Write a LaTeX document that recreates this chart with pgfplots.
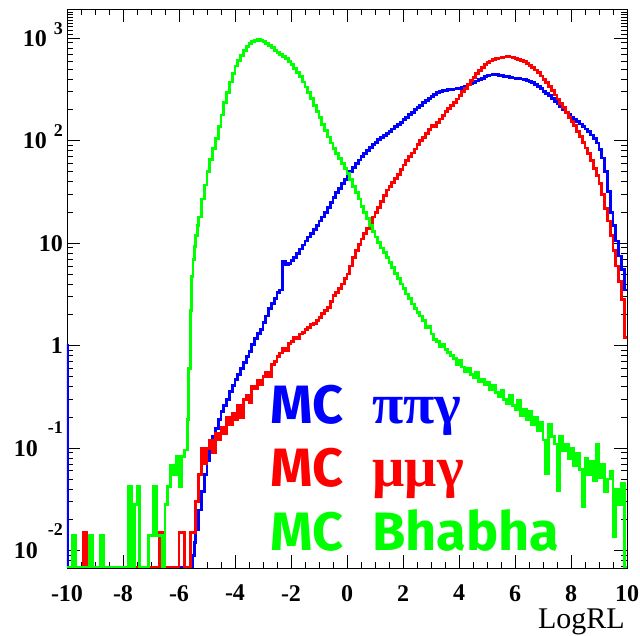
\documentclass[border=0pt]{standalone}
\usepackage{fontspec}
\setmainfont{Liberation Serif}
\newfontfamily\comic{Fira Sans}
\newfontfamily\greek{Liberation Serif}
\usepackage{pgfplots}
\pgfplotsset{compat=1.18}

\pgfplotstableread{
x y
-10.0 0.0068
-10.0 1.0
-9.98 0.0068
-5.5 0.009
-5.45 0.012
-5.4 0.016
-5.3 0.025
-5.2 0.038
-5.1 0.055
-5.0 0.075
-4.9 0.1
-4.8 0.13
-4.7 0.155
-4.6 0.19
-4.5 0.23
-4.4 0.26
-4.3 0.3
-4.2 0.36
-4.1 0.41
-4.0 0.47
-3.9 0.52
-3.8 0.6
-3.7 0.68
-3.6 0.78
-3.5 0.88
-3.4 1.02
-3.3 1.18
-3.2 1.32
-3.1 1.45
-3.0 1.7
-2.9 1.95
-2.8 2.3
-2.7 2.6
-2.6 2.9
-2.5 3.3
-2.4 3.5
-2.3 6.6
-2.2 6.2
-2.1 6.3
-2.0 6.8
-1.9 7.3
-1.8 8.0
-1.7 8.8
-1.6 9.6
-1.5 10.5
-1.4 11.5
-1.3 12.5
-1.2 13.5
-1.1 15
-1.0 16.5
-0.9 18
-0.8 20
-0.7 22.5
-0.6 25
-0.5 28
-0.4 31
-0.3 34
-0.2 38
-0.1 42
0.0 46
0.1 50
0.2 55
0.3 60
0.4 65
0.5 70
0.6 75
0.7 80
0.8 86
0.9 92
1.0 97
1.1 102
1.2 108
1.3 113
1.4 118
1.5 124
1.6 130
1.7 137
1.8 144
1.9 152
2.0 160
2.1 170
2.2 180
2.3 190
2.4 200
2.5 210
2.6 222
2.7 235
2.8 248
2.9 258
3.0 270
3.1 285
3.2 298
3.3 305
3.4 308
3.5 312
3.6 315
3.7 318
3.8 320
3.9 322
4.0 326
4.1 333
4.2 340
4.3 350
4.4 360
4.5 370
4.6 382
4.7 395
4.8 408
4.9 420
5.0 430
5.1 438
5.2 442
5.3 440
5.4 435
5.5 430
5.6 425
5.7 420
5.8 415
5.9 410
6.0 406
6.1 403
6.2 400
6.3 395
6.4 388
6.5 380
6.6 368
6.7 355
6.8 340
6.9 322
7.0 305
7.1 290
7.2 275
7.3 258
7.4 242
7.5 228
7.6 215
7.7 202
7.8 190
7.9 180
8.0 170
8.1 162
8.2 154
8.3 146
8.4 138
8.5 130
8.6 122
8.7 114
8.8 105
8.9 95
9.0 82
9.1 68
9.2 50
9.3 32
9.4 20
9.5 15
9.6 10.5
9.7 7.5
9.8 5.5
9.9 3.5
10.0 3.5
}\pipig

\pgfplotstableread{
x y
-10.0 0.0068
-9.4 0.015
-9.3 0.0068
-6.7 0.015
-6.6 0.0068
-6.0 0.015
-5.9 0.015
-5.8 0.0068
-5.6 0.015
-5.5 0.015
-5.4 0.03
-5.3 0.055
-5.2 0.1
-5.1 0.07
-5.0 0.1
-4.9 0.12
-4.8 0.09
-4.7 0.14
-4.6 0.12
-4.5 0.16
-4.4 0.14
-4.3 0.2
-4.2 0.17
-4.1 0.22
-4.0 0.19
-3.9 0.26
-3.8 0.2
-3.7 0.3
-3.6 0.33
-3.5 0.28
-3.4 0.4
-3.3 0.38
-3.2 0.46
-3.1 0.42
-3.0 0.5
-2.9 0.55
-2.8 0.5
-2.7 0.65
-2.6 0.7
-2.5 0.78
-2.4 0.85
-2.3 0.95
-2.2 0.9
-2.1 1.05
-2.0 1.1
-1.9 1.2
-1.8 1.18
-1.7 1.3
-1.6 1.35
-1.5 1.45
-1.4 1.5
-1.3 1.6
-1.2 1.65
-1.1 1.75
-1.0 1.9
-0.9 2.05
-0.8 2.2
-0.7 2.35
-0.6 2.7
-0.5 3.1
-0.4 3.3
-0.3 3.6
-0.2 4.0
-0.1 4.5
0.0 5.0
0.1 6.0
0.2 7.2
0.3 8.5
0.4 9.8
0.5 11
0.6 12.5
0.7 14
0.8 16
0.9 18
1.0 20
1.1 22.5
1.2 25.5
1.3 29
1.4 33
1.5 36
1.6 39
1.7 43
1.8 47
1.9 52
2.0 58
2.1 64
2.2 70
2.3 76
2.4 83
2.5 92
2.6 100
2.7 108
2.8 118
2.9 128
3.0 142
3.1 138
3.2 150
3.3 163
3.4 177
3.5 192
3.6 208
3.7 222
3.8 238
3.9 256
4.0 278
4.1 300
4.2 325
4.3 355
4.4 385
4.5 415
4.6 450
4.7 485
4.8 520
4.9 552
5.0 578
5.1 600
5.2 618
5.3 632
5.4 642
5.5 650
5.6 655
5.7 658
5.8 655
5.9 648
6.0 638
6.1 625
6.2 608
6.3 590
6.4 570
6.5 545
6.6 520
6.7 490
6.8 460
6.9 428
7.0 398
7.1 368
7.2 338
7.3 308
7.4 280
7.5 255
7.6 232
7.7 210
7.8 190
7.9 170
8.0 155
8.1 140
8.2 124
8.3 110
8.4 97
8.5 85
8.6 75
8.7 64
8.8 54
8.9 46
9.0 38
9.1 30
9.2 22
9.3 16.5
9.4 12
9.5 8.5
9.6 6
9.7 4.2
9.8 2.8
9.9 1.2
10.0 1.2
}\mumug

\pgfplotstableread{
x y
-10.0 0.0068
-9.8 0.014
-9.7 0.0068
-9.2 0.014
-9.1 0.0068
-8.8 0.014
-8.7 0.0068
-7.8 0.042
-7.7 0.0068
-7.6 0.028
-7.5 0.042
-7.4 0.0068
-7.1 0.014
-7.0 0.014
-6.9 0.042
-6.8 0.014
-6.7 0.014
-6.6 0.0068
-6.5 0.028
-6.4 0.042
-6.3 0.068
-6.2 0.055
-6.1 0.083
-6.0 0.042
-5.9 0.083
-5.8 0.096
-5.7 0.19
-5.65 0.6
-5.6 2.2
-5.55 4.7
-5.5 7.0
-5.45 9.3
-5.4 12
-5.35 15
-5.3 18
-5.2 27
-5.1 37
-5.0 50
-4.9 66
-4.8 84
-4.7 106
-4.6 138
-4.5 178
-4.4 235
-4.3 295
-4.2 375
-4.1 455
-4.0 535
-3.9 605
-3.8 675
-3.7 755
-3.6 835
-3.5 895
-3.4 935
-3.3 958
-3.2 965
-3.1 955
-3.0 930
-2.9 895
-2.8 855
-2.7 810
-2.6 765
-2.5 725
-2.4 690
-2.3 660
-2.2 630
-2.1 595
-2.0 555
-1.9 510
-1.8 465
-1.7 420
-1.6 375
-1.5 335
-1.4 295
-1.3 258
-1.2 222
-1.1 192
-1.0 168
-0.9 145
-0.8 126
-0.7 109
-0.6 95
-0.5 84
-0.4 75
-0.3 67
-0.2 60
-0.1 54
0.0 48
0.1 42
0.2 36
0.3 31
0.4 27
0.5 23
0.6 20
0.7 17.5
0.8 15
0.9 13
1.0 11.5
1.1 10.2
1.2 9.0
1.3 8.1
1.4 7.3
1.5 6.5
1.6 5.8
1.7 5.1
1.8 4.5
1.9 4.0
2.0 3.6
2.1 3.2
2.2 2.9
2.3 2.55
2.4 2.3
2.5 2.1
2.6 1.95
2.7 1.75
2.8 1.5
2.9 1.55
3.0 1.3
3.1 1.15
3.2 1.1
3.3 0.98
3.4 1.02
3.5 0.92
3.6 0.86
3.7 0.80
3.8 0.75
3.9 0.66
4.0 0.72
4.1 0.62
4.2 0.56
4.3 0.60
4.4 0.52
4.5 0.49
4.6 0.55
4.7 0.45
4.8 0.47
4.9 0.42
5.0 0.44
5.1 0.37
5.2 0.41
5.3 0.35
5.4 0.32
5.5 0.37
5.6 0.30
5.7 0.27
5.8 0.33
5.9 0.26
6.0 0.24
6.1 0.29
6.2 0.21
6.3 0.24
6.4 0.19
6.5 0.23
6.6 0.17
6.7 0.20
6.8 0.15
6.9 0.18
7.0 0.12
7.1 0.057
7.2 0.17
7.3 0.13
7.4 0.11
7.5 0.039
7.6 0.13
7.7 0.095
7.8 0.11
7.9 0.08
8.0 0.1
8.1 0.068
8.2 0.09
8.3 0.062
8.4 0.027
8.5 0.08
8.6 0.055
8.7 0.075
8.8 0.048
8.9 0.11
9.0 0.052
9.1 0.07
9.2 0.038
9.3 0.05
9.4 0.06
9.5 0.0136
9.6 0.04
9.7 0.028
9.8 0.045
9.9 0.0068
10.0 0.0068
}\bhabha

\begin{document}
\begin{tikzpicture}
\path[use as bounding box] (-67pt,-68pt) rectangle (573pt,568pt);
\begin{axis}[
  at={(0pt,0pt)}, anchor=south west,
  scale only axis, width=560pt, height=559pt,
  ymode=log,
  xmin=-10, xmax=10, ymin=0.00678, ymax=1930,
  axis line style={line width=0.9pt, black},
  every tick/.style={line width=0.9pt, black},
  tick align=inside,
  xtick pos=both, ytick pos=both,
  major tick length=13pt, minor tick length=6.5pt,
  xtick={-10,-8,-6,-4,-2,0,2,4,6,8,10},
  minor x tick num=3,
  xticklabels={-10,-8,-6,-4,-2,0,2,4,6,8,10},
  ytick={0.01,0.1,1,10,100,1000},
  minor ytick={0.007,0.008,0.009,0.02,0.03,0.04,0.05,0.06,0.07,0.08,0.09,0.2,0.3,0.4,0.5,0.6,0.7,0.8,0.9,2,3,4,5,6,7,8,9,20,30,40,50,60,70,80,90,200,300,400,500,600,700,800,900,1100,1200,1300,1400,1500,1600,1700,1800,1900},
  yticklabels={
    {10\hspace{10pt}\raisebox{23pt}{\fontsize{18}{18}\selectfont -2}},
    {10\hspace{10pt}\raisebox{23pt}{\fontsize{18}{18}\selectfont -1}},
    {1\hspace{18pt}},
    {10\hspace{16pt}},
    {10\hspace{7pt}\raisebox{12pt}{\fontsize{18}{18}\selectfont 2}},
    {10\hspace{7pt}\raisebox{12pt}{\fontsize{18}{18}\selectfont 3}}},
  xticklabel style={anchor=north, inner sep=0pt, yshift=-17pt, font=\fontsize{24}{24}\selectfont\bfseries},
  yticklabel style={anchor=base east, inner sep=0pt, xshift=-4pt, yshift=-8pt, font=\fontsize{24}{24}\selectfont\bfseries},
  xlabel={LogRL},
  xlabel style={at={(rel axis cs:1,0)}, anchor=base east, inner sep=0pt, text height=20pt, text depth=6pt, yshift=-61pt, xshift=-2pt, font=\fontsize{30}{30}\selectfont},
  clip=true,
]
\addplot[const plot mark left, blue, line width=2.8pt] table[x=x,y=y] {\pipig};
\addplot[const plot mark left, red, line width=2.8pt] table[x=x,y=y] {\mumug};
\addplot[const plot mark left, green, line width=2.8pt] table[x=x,y=y] {\bhabha};

\node[anchor=base west, inner sep=0pt, text=blue] at (rel axis cs:0.3625,0.259) {\comic\bfseries\fontsize{54}{54}\selectfont MC};
\node[anchor=base west, inner sep=0pt, text=blue] at (rel axis cs:0.545,0.259) {\greek\bfseries\fontsize{57}{57}\selectfont ππγ};
\node[anchor=base west, inner sep=0pt, text=red] at (rel axis cs:0.3625,0.145) {\comic\bfseries\fontsize{54}{54}\selectfont MC};
\node[anchor=base west, inner sep=0pt, text=red] at (rel axis cs:0.545,0.145) {\greek\bfseries\fontsize{57}{57}\selectfont μμγ};
\node[anchor=base west, inner sep=0pt, text=green] at (rel axis cs:0.3625,0.032) {\comic\bfseries\fontsize{54}{54}\selectfont MC};
\node[anchor=base west, inner sep=0pt, text=green] at (rel axis cs:0.545,0.032) {\comic\bfseries\fontsize{54}{54}\selectfont Bhabha};
\end{axis}
\end{tikzpicture}
\end{document}
